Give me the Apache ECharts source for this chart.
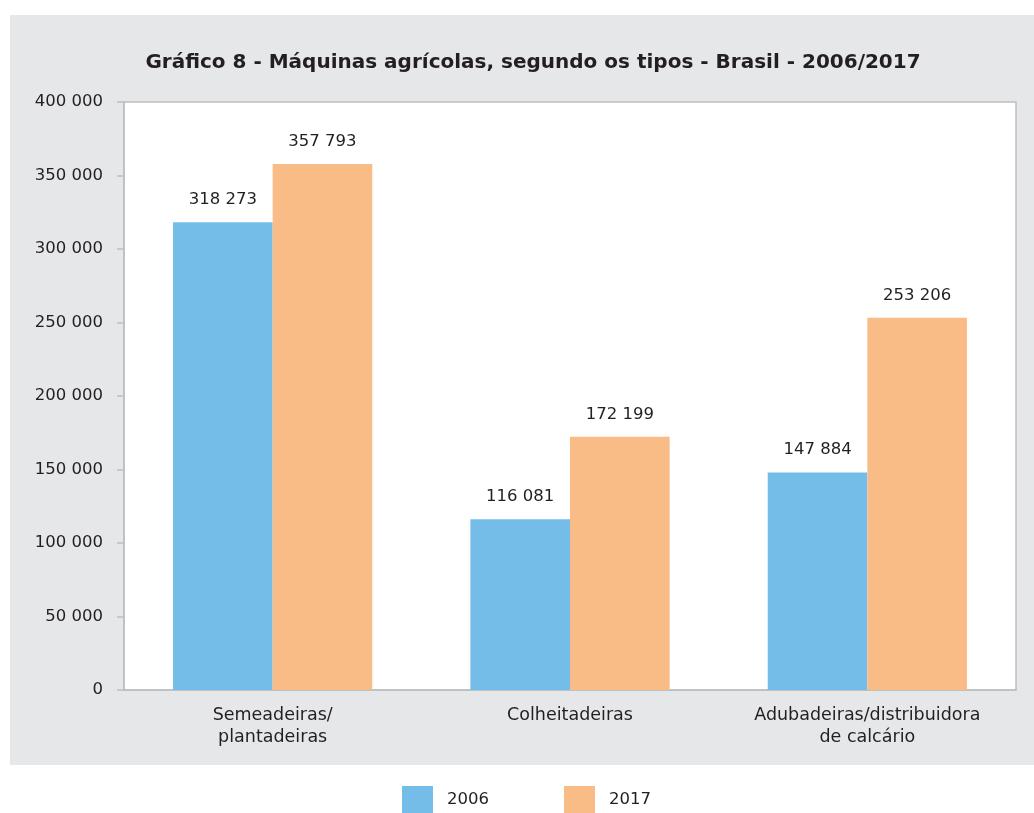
<!DOCTYPE html>
<html>
<head>
<meta charset="utf-8">
<script src="https://cdn.jsdelivr.net/npm/echarts@6/dist/echarts.min.js"></script>
<style>
    html, body { margin: 0; padding: 0; background: #fff; }
    #chart { width: 1034px; height: 813px; }
</style>
</head>
<body>
<div id="chart"></div>
<script>
    // dados do gráfico
    const categories = ['Semeadeiras/\nplantadeiras', 'Colheitadeiras', 'Adubadeiras/distribuidora\nde calcário'];
    const values2006 = [318273, 116081, 147884];
    const values2017 = [357793, 172199, 253206];
    const seriesNames = ['2006', '2017'];

    const fmt = v => String(v).replace(/\B(?=(\d{3})+(?!\d))/g, ' ');
    const font = '"DejaVu Sans", sans-serif';

    let myChart = echarts.init(document.getElementById('chart'));
    myChart.setOption({
        animation: false,
        backgroundColor: '#fff',
        graphic: [{
            type: 'rect',
            z: -10,
            shape: { x: 10, y: 15, width: 1024, height: 750 },
            style: { fill: '#e6e7e9' }
        }],
        title: {
            text: 'Gráfico 8 - Máquinas agrícolas, segundo os tipos - Brasil - 2006/2017',
            left: 528,
            textAlign: 'center',
            top: 48,
            textStyle: { fontFamily: font, fontSize: 20, fontWeight: 'bold', color: '#231f20' }
        },
        legend: {
            data: seriesNames,
            bottom: -5,
            left: 397,
            itemWidth: 31,
            itemHeight: 27,
            itemGap: 75,
            icon: 'rect',
            textStyle: { fontFamily: font, fontSize: 16.5, color: '#231f20', padding: [0, 0, 0, 9] }
        },
        grid: {
            left: 124,
            right: 18,
            top: 102,
            bottom: 123,
            show: true,
            backgroundColor: '#fff',
            borderColor: '#bcbec0',
            borderWidth: 1.5
        },
        xAxis: {
            type: 'category',
            data: categories,
            axisLine: { lineStyle: { color: '#bcbec0', width: 1.5 } },
            axisTick: { show: false },
            axisLabel: { interval: 0, hideOverlap: false, fontFamily: font, fontSize: 17.5, color: '#231f20', margin: 14, lineHeight: 22 }
        },
        yAxis: {
            type: 'value',
            min: 0,
            max: 400000,
            interval: 50000,
            splitLine: { show: false },
            axisLine: { show: true, lineStyle: { color: '#bcbec0', width: 1.5 } },
            axisTick: { show: true, length: 7, lineStyle: { color: '#bcbec0', width: 1.5 } },
            axisLabel: { fontFamily: font, fontSize: 16.5, color: '#231f20', margin: 21, formatter: fmt }
        },
        series: [
            {
                name: seriesNames[0],
                type: 'bar',
                data: values2006,
                color: '#74bde8',
                barGap: 0,
                barCategoryGap: '33%',
                label: { show: true, position: 'top', distance: 14, formatter: p => fmt(p.value), fontFamily: font, fontSize: 16.5, color: '#231f20' }
            },
            {
                name: seriesNames[1],
                type: 'bar',
                data: values2017,
                color: '#f9bc86',
                barGap: 0,
                barCategoryGap: '33%',
                label: { show: true, position: 'top', distance: 14, formatter: p => fmt(p.value), fontFamily: font, fontSize: 16.5, color: '#231f20' }
            }
        ]
    });
</script>
</body>
</html>
